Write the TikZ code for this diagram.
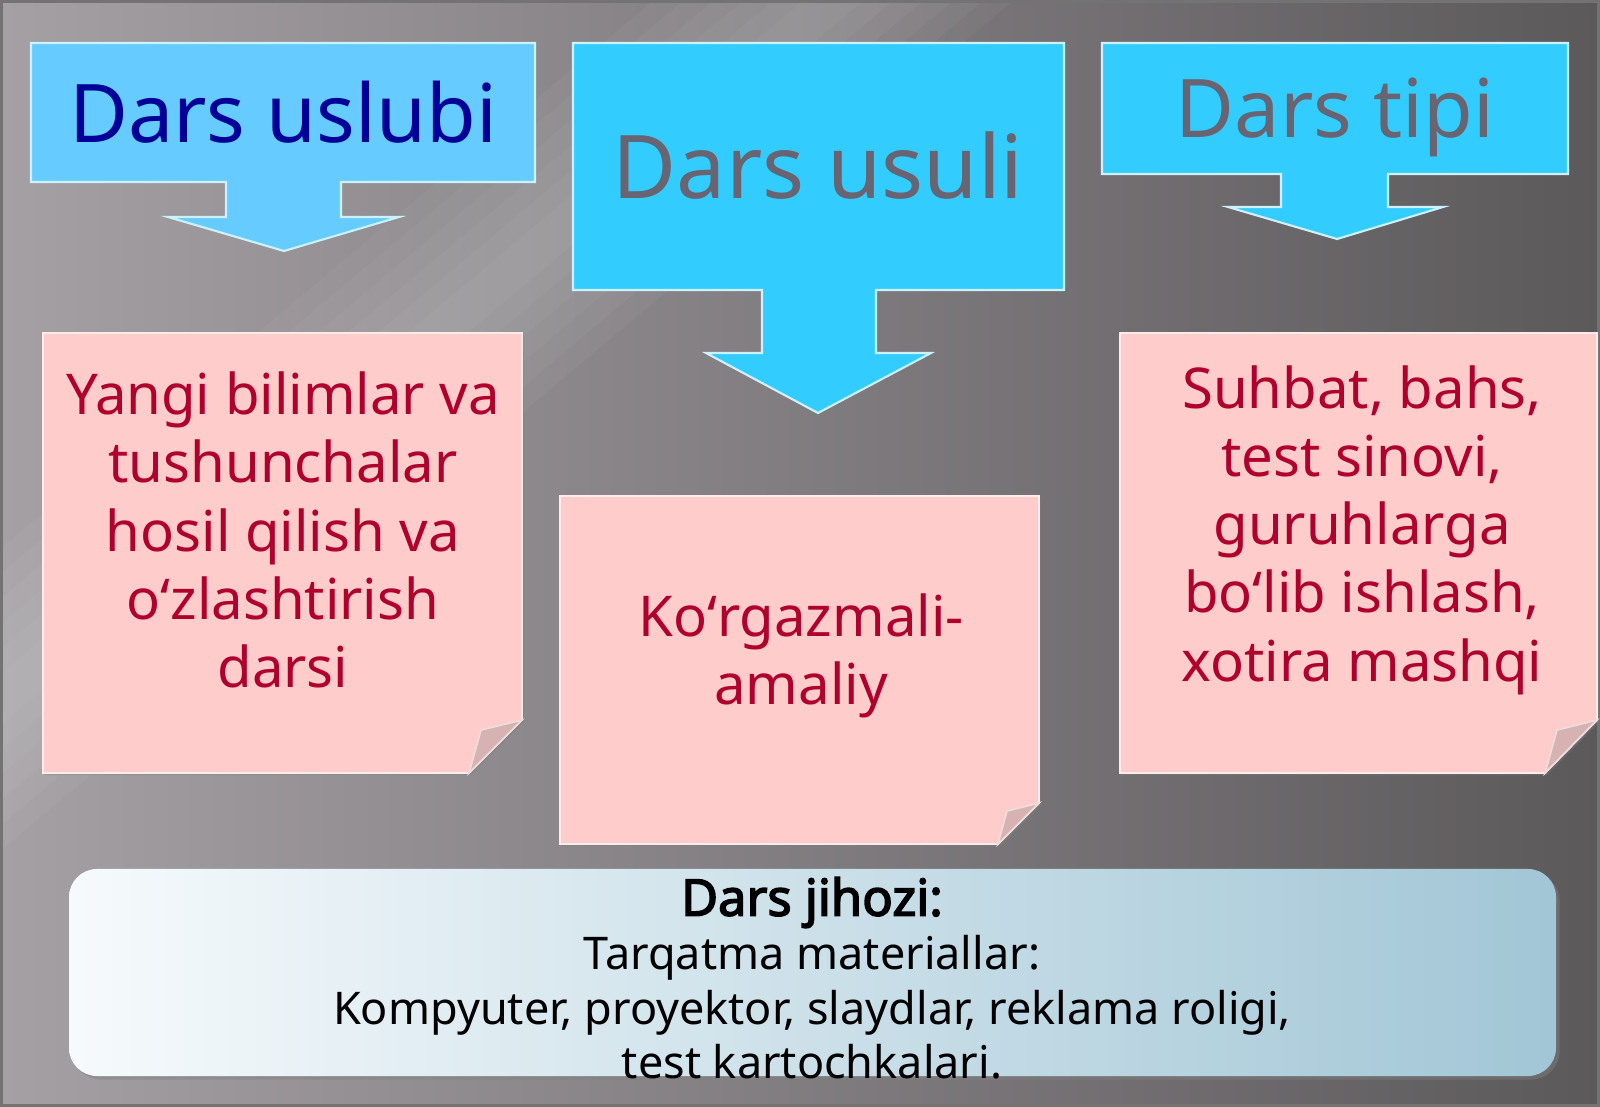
\documentclass[tikz,border=0pt]{standalone}
\usepackage{fontspec}
\setmainfont{Noto Sans}[AutoFakeBold=3]
\usetikzlibrary{shadows}
\definecolor{sky}{HTML}{33CCFF}
\definecolor{skylight}{HTML}{66CCFF}
\definecolor{navy}{HTML}{000099}
\definecolor{slate}{HTML}{686472}
\definecolor{rose}{HTML}{FFCCCC}
\definecolor{wine}{HTML}{B0002C}
\definecolor{flap}{HTML}{D6B2B2}
\definecolor{iceL}{HTML}{F6FAFC}
\definecolor{iceR}{HTML}{A2C6D6}
\definecolor{bgL}{HTML}{A4A0A4}
\definecolor{bgR}{HTML}{5C595B}
\tikzstyle{callout}=[draw=white!75!sky,line width=0.6pt]
\tikzstyle{headtext}=[font=\fontsize{23}{27}\selectfont,inner sep=0pt]
\tikzstyle{note}=[fill=rose,draw=white!60!rose,line width=0.5pt,
                  drop shadow={opacity=0.35,shadow xshift=0.6pt,shadow yshift=-0.6pt}]
\tikzstyle{notetext}=[text=wine,align=center,inner sep=0pt,
                      font=\fontsize{16}{19.4}\selectfont]
\tikzstyle{curl}=[fill=flap,draw=white!55!flap,line width=0.5pt]
\tikzstyle{kit}=[rounded corners=0.28cm,left color=iceL,right color=iceR,
                 drop shadow={opacity=0.45,shadow xshift=1pt,shadow yshift=-1pt}]
\tikzstyle{streak}=[white,opacity=0.035]

\begin{document}
\begin{tikzpicture}[x=0.01cm,y=-0.01cm]
    \useasboundingbox (0,0) rectangle (1600,1107);

    % background
    \shade[left color=bgL,right color=bgR] (0,0) rectangle (1600,1107);
    \foreach \w in {180,150,120,90,60,30}
        \fill[streak] (834-\w,0) -- (834+\w,0) -- (0,700+0.84*\w) -- (0,700-0.84*\w) -- cycle;
    \draw[black!55,line width=1pt] (1,1) rectangle (1599,1106);

    % callouts
    \filldraw[callout,fill=skylight] (31,43) -- (535,43) -- (535,182) -- (341,182)
        -- (341,217) -- (399,217) -- (284,251) -- (168,217) -- (226,217)
        -- (226,182) -- (31,182) -- cycle;
    \filldraw[callout,fill=sky] (573,43) -- (1064,43) -- (1064,290) -- (876,290)
        -- (876,353) -- (931,353) -- (818,413) -- (706,353) -- (762,353)
        -- (762,290) -- (573,290) -- cycle;
    \filldraw[callout,fill=sky] (1102,43) -- (1568,43) -- (1568,174) -- (1388,174)
        -- (1388,207) -- (1443,207) -- (1337,239) -- (1228,207) -- (1281,207)
        -- (1281,174) -- (1102,174) -- cycle;

    \node[headtext,text=navy,anchor=base] (uslubi) at (283,143) {Dars uslubi};
    \node[headtext,text=slate,anchor=base,font=\fontsize{25}{29}\selectfont] (usuli) at (818,199) {Dars usuli};
    \node[headtext,text=slate,anchor=base] (tipi) at (1335,138) {Dars tipi};

    % notes with curled corners
    \filldraw[note] (43,333) -- (522,333) -- (522,720) -- (469,773) -- (43,773) -- cycle;
    \filldraw[curl] (469,773) -- (481,730) -- (522,720) -- cycle;
    \filldraw[note] (560,496) -- (1039,496) -- (1039,803) -- (998,844) -- (560,844) -- cycle;
    \filldraw[curl] (998,844) -- (1007,811) -- (1039,803) -- cycle;
    \filldraw[note] (1120,333) -- (1597,333) -- (1597,720) -- (1545,773) -- (1120,773) -- cycle;
    \filldraw[curl] (1545,773) -- (1557,730) -- (1597,720) -- cycle;

    \node[notetext] (bilim) at (283,530) {Yangi bilimlar va\\tushunchalar\\hosil qilish va\\oʻzlashtirish\\darsi};
    \node[notetext] (amaliy) at (801,656) {Koʻrgazmali-\\amaliy};
    \node[notetext] (suhbat) at (1362,530) {Suhbat, bahs,\\ test sinovi,\\guruhlarga\\boʻlib ishlash,\\ xotira mashqi};

    % equipment
    \path[kit] (69,869) rectangle (1556,1076);
    \node[align=center,inner sep=0pt,font=\fontsize{12.8}{15.4}\selectfont] (jihoz) at (812,978)
        {{\fontsize{14.4}{15.4}\selectfont\bfseries Dars jihozi:}\\Tarqatma materiallar:\\Kompyuter, proyektor, slaydlar, reklama roligi,\\test kartochkalari.};
\end{tikzpicture}
\end{document}
